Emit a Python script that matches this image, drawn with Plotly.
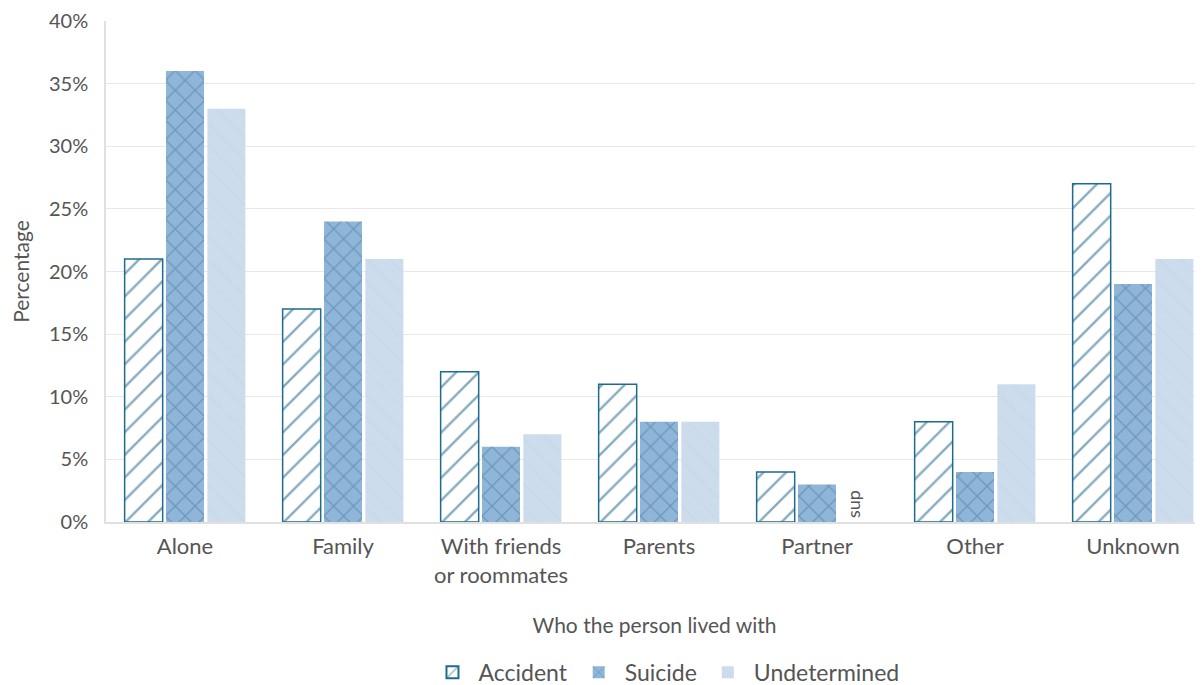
import plotly.graph_objects as go

categories = ["Alone", "Family", "With friends<br>or roommates", "Parents", "Partner", "Other", "Unknown"]
accident = [21, 17, 12, 11, 4, 8, 27]
suicide = [36, 24, 6, 8, 3, 4, 19]
undetermined = [33, 21, 7, 8, None, 11, 21]
suppressed_label = "sup"
suppressed_category = "Partner"

FONT = "Lato, 'Open Sans', sans-serif"
TXT = "#555555"

fig = go.Figure()
fig.add_trace(go.Bar(
    name="Accident", x=categories, y=accident,
    marker=dict(color="white", line=dict(color="#1f6b8e", width=1.5),
                pattern=dict(shape="/", fgcolor="#0e5a80", bgcolor="white", size=16, solidity=0.15)),
))
fig.add_trace(go.Bar(
    name="Suicide", x=categories, y=suicide,
    marker=dict(color="#8fb6d8", line=dict(color="#8fb6d8", width=0),
                pattern=dict(shape="x", fgcolor="#4a78a0", bgcolor="#8fb6d8", size=14, solidity=0.18)),
))
fig.add_trace(go.Bar(
    name="Undetermined", x=categories, y=undetermined,
    marker=dict(color="#cddcec", line=dict(color="#cddcec", width=0),
                pattern=dict(shape="\\", fgcolor="#b9cbdf", bgcolor="#cddcec", size=16, solidity=0.06)),
))

fig.add_annotation(x=suppressed_category, y=0, text=suppressed_label, showarrow=False,
                   textangle=-90, xshift=36, yanchor="bottom", yshift=2,
                   font=dict(family=FONT, size=18, color=TXT))

fig.update_layout(
    width=1195, height=677,
    margin=dict(l=98, r=0, t=13, b=163, autoexpand=False),
    plot_bgcolor="white", paper_bgcolor="white",
    font=dict(family=FONT, size=20, color=TXT),
    barmode="group", bargap=0.215, bargroupgap=0.08,
    legend=dict(orientation="h", x=0.51, xanchor="center", y=-0.3, yanchor="middle",
                font=dict(size=23, color=TXT), itemsizing="constant", itemwidth=42),
    showlegend=True,
)
fig.update_xaxes(
    title=dict(text="Who the person lived with", standoff=32, font=dict(size=21, color=TXT)),
    tickfont=dict(size=22, color=TXT), showline=True, linecolor="#e0e0e0", linewidth=1.5,
    ticks="outside", ticklen=4, tickcolor="rgba(0,0,0,0)", showgrid=False, automargin=False,
    range=[-0.5, 6.443],
)
fig.update_yaxes(
    title=dict(text="Percentage", standoff=24, font=dict(size=21, color=TXT)),
    range=[0, 40], dtick=5, ticksuffix="%", tickfont=dict(size=20, color=TXT),
    showgrid=True, gridcolor="#e8e8e8", gridwidth=1.2,
    showline=True, linecolor="#e0e0e0", linewidth=1.5, zeroline=False,
    ticks="outside", ticklen=12, tickcolor="rgba(0,0,0,0)", automargin=False,
)

fig.write_html("out.html")
